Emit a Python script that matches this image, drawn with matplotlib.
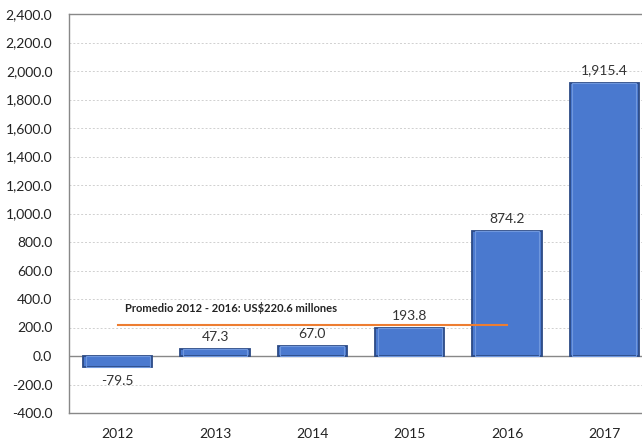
import matplotlib
matplotlib.use("Agg")
import matplotlib.pyplot as plt
from matplotlib.ticker import FuncFormatter

years = ["2012", "2013", "2014", "2015", "2016", "2017"]
values = [-79.5, 47.3, 67.0, 193.8, 874.2, 1915.4]
average_value = 220.6
average_label = "Promedio 2012 - 2016: US$220.6 millones"

plt.rcParams["font.family"] = ["Lato", "DejaVu Sans"]

fig = plt.figure(figsize=(6.42, 4.41), dpi=100)
ax = fig.add_axes([69 / 642, 1 - 413 / 441, 584 / 642, 399 / 441])

x = list(range(len(years)))
ax.bar(x, values, width=0.71, color="#4a79cf", edgecolor="#2c4a85",
       linewidth=1.3, zorder=3)
# lighter inner rim for a bevelled look
ax.bar(x, values, width=0.66, color="none", edgecolor="#6f97dd",
       linewidth=0.8, zorder=3.5)

# average line spanning 2012-2016
ax.plot([0, 4], [average_value, average_value], color="#ed7d31", lw=1.5, zorder=4)
ax.text(0.08, average_value + 75, average_label, fontsize=8, fontweight="bold",
        color="#222222", ha="left", va="bottom", zorder=5)

for xi, v in zip(x, values):
    if v < 0:
        ax.text(xi, v - 55, f"{v:,.1f}", ha="center", va="top", fontsize=10,
                color="#333333", zorder=5)
    else:
        ax.text(xi, v + 45, f"{v:,.1f}", ha="center", va="bottom", fontsize=10,
                color="#333333", zorder=5)

ax.set_xlim(-0.5, 5.5)
ax.set_ylim(-400, 2400)
ax.set_yticks(range(-400, 2401, 200))
ax.yaxis.set_major_formatter(FuncFormatter(lambda v, p: f"{v:,.1f}"))
ax.set_xticks(x)
ax.set_xticklabels(years)
ax.tick_params(axis="both", length=0, labelsize=10, labelcolor="#222222")
ax.tick_params(axis="y", pad=12)
ax.tick_params(axis="x", pad=11)

ax.grid(axis="y", color="#d0d0d0", linestyle=(0, (2, 2)), linewidth=0.7, zorder=0)
ax.axhline(0, color="#888888", lw=1.0, zorder=2)
for s in ax.spines.values():
    s.set_color("#888888")
    s.set_linewidth(1.0)

fig.savefig("out.png", dpi=100)
